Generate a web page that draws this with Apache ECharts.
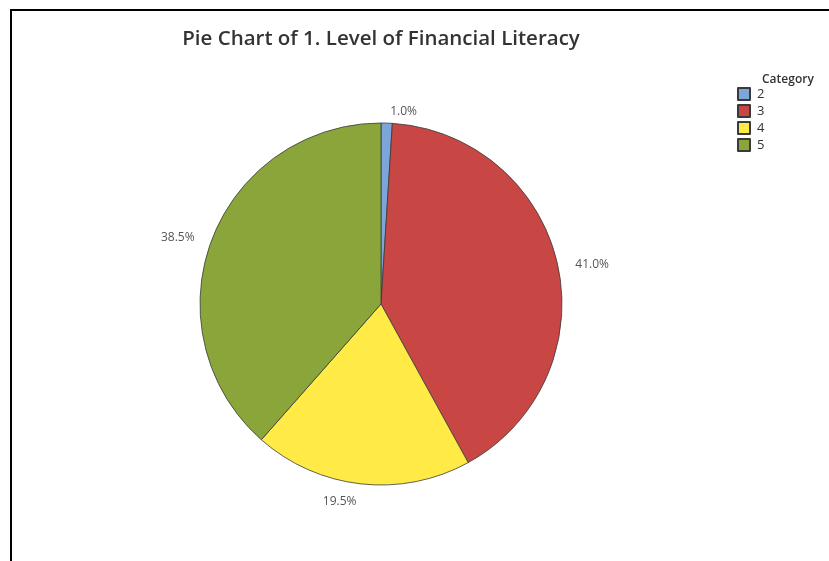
<!DOCTYPE html>
<html>
<head>
<meta charset="utf-8">
<script src="https://cdn.jsdelivr.net/npm/echarts@6/dist/echarts.min.js"></script>
<style>
  html, body { margin: 0; padding: 0; background: #fff; }
  #chart { width: 829px; height: 561px; }
</style>
</head>
<body>
<div id="chart"></div>
<script>
// data
const categories = ["2", "3", "4", "5"];
const percents = [1.0, 41.0, 19.5, 38.5];
const sliceColors = ["#7ca6d9", "#c84644", "#ffea46", "#8aa53a"];

const chart = echarts.init(document.getElementById("chart"));
const font = "'Open Sans', 'Noto Sans', sans-serif";

chart.setOption({
  animation: false,
  title: [
    {
      text: "Pie Chart of 1. Level of Financial Literacy",
      left: 376, top: 24, textAlign: "center",
      textStyle: { fontFamily: font, fontSize: 20.5, fontWeight: 600, color: "#333" }
    },
    {
      text: "Category",
      left: 757, top: 69,
      textStyle: { fontFamily: font, fontSize: 12, fontWeight: 600, color: "#333" }
    }
  ],
  legend: {
    orient: "vertical",
    left: 732, top: 82,
    icon: "rect",
    itemWidth: 12, itemHeight: 12, itemGap: 3,
    textStyle: { fontFamily: font, fontSize: 13, lineHeight: 13, color: "#333", padding: [0, 0, 0, 2] },
    data: categories
  },
  graphic: [
    { type: "line", shape: { x1: 10, y1: 10, x2: 829, y2: 10 }, style: { stroke: "#000", lineWidth: 2 } },
    { type: "line", shape: { x1: 11, y1: 10, x2: 11, y2: 561 }, style: { stroke: "#000", lineWidth: 2 } }
  ],
  series: [
    {
      type: "pie",
      center: [381, 304],
      radius: 181,
      startAngle: 90,
      clockwise: true,
      avoidLabelOverlap: false,
      itemStyle: { borderColor: "#3a3a3a", borderWidth: 0.8 },
      label: {
        show: true,
        position: "outside",
        formatter: p => p.value.toFixed(1) + "%",
        fontFamily: font, fontSize: 12, color: "#555",
        distanceToLabelLine: 3,
        offset: [0, 3]
      },
      labelLine: { show: false, length: 15, length2: 0 },
      emphasis: { disabled: true },
      data: categories.map((c, i) => ({
        name: c, value: percents[i], itemStyle: { color: sliceColors[i] }
      }))
    }
  ]
});
</script>
</body>
</html>
